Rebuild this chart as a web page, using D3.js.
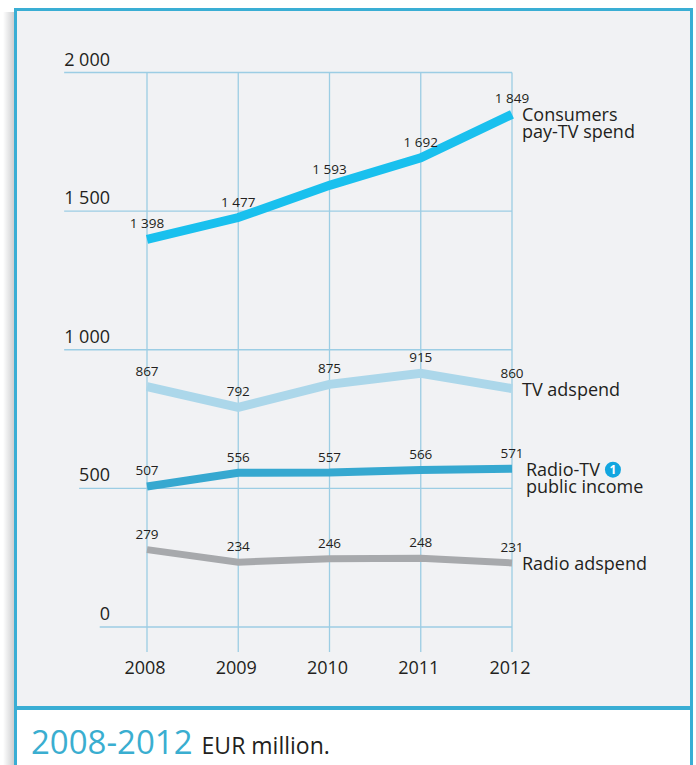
<!DOCTYPE html>
<html>
<head>
<meta charset="utf-8">
<script src="https://cdn.jsdelivr.net/npm/d3@7"></script>
<style>
  body { margin: 0; background: #fff; }
  #chart { position: relative; width: 696px; height: 765px; }
  svg text { font-family: "Open Sans", "Noto Sans", sans-serif; fill: #231f20; }
</style>
</head>
<body>
<div id="chart"></div>
<script>
// data
var years = [2008, 2009, 2010, 2011, 2012];
var payTv = [1398, 1477, 1593, 1692, 1849];
var tvAd = [867, 792, 875, 915, 860];
var publicIncome = [507, 556, 557, 566, 571];
var radioAd = [279, 234, 246, 248, 231];
var yTicks = [0, 500, 1000, 1500, 2000];
var yTickLabels = ["0", "500", "1 000", "1 500", "2 000"];
var seriesNames = [["Consumers", "pay-TV spend"], ["TV adspend"], ["Radio-TV", "public income"], ["Radio adspend"]];

var W = 696, H = 765;
var fmt = function(v){ return d3.format(",")(v).replace(",", " "); };

var svg = d3.select("#chart").append("svg")
    .attr("width", W)
    .attr("height", H);

// shadow on left of the frame
var defs = svg.append("defs");
var grad = defs.append("linearGradient").attr("id", "shadow").attr("x1", 0).attr("x2", 1);
grad.append("stop").attr("offset", 0).attr("stop-color", "#fff");
grad.append("stop").attr("offset", 1).attr("stop-color", "#c9cacc");
svg.append("rect").attr("x", 3).attr("y", 12).attr("width", 12).attr("height", H - 12).attr("fill", "url(#shadow)");

// frame
svg.append("rect").attr("x", 15.5).attr("y", 9.5).attr("width", 676).attr("height", 698)
    .attr("fill", "#f1f2f4").attr("stroke", "#3aaed4").attr("stroke-width", 3);
svg.append("rect").attr("x", 15.5).attr("y", 708.5).attr("width", 676).attr("height", 70)
    .attr("fill", "#fff").attr("stroke", "#3aaed4").attr("stroke-width", 3);

var x = d3.scalePoint().domain(years).range([147, 512]);
var y = d3.scaleLinear().domain([0, 2000]).range([627, 72.5]);

var g = svg.append("g");

// horizontal grid + y labels
var yg = g.selectAll(".ytick").data(yTicks).enter().append("g").attr("class", "ytick");
yg.append("text")
    .attr("x", 110)
    .attr("y", function(d){ return y(d) - 7; })
    .attr("text-anchor", "end")
    .style("font-size", "18px")
    .text(function(d, i){ return yTickLabels[i]; });
yg.each(function(d){
    var t = d3.select(this).select("text").node().getBBox();
    d3.select(this).append("line")
        .attr("x1", t.x).attr("x2", x(2012))
        .attr("y1", y(d)).attr("y2", y(d))
        .attr("stroke", "#9ccde4").attr("stroke-width", 1.3);
});

// vertical grid + x labels
g.selectAll(".vgrid").data(years).enter().append("line")
    .attr("x1", function(d){ return x(d); }).attr("x2", function(d){ return x(d); })
    .attr("y1", y(2000)).attr("y2", 652)
    .attr("stroke", "#9ccde4").attr("stroke-width", 1.3);
g.selectAll(".xlab").data(years).enter().append("text")
    .attr("x", function(d){ return x(d) - 2; })
    .attr("y", 674)
    .attr("text-anchor", "middle")
    .style("font-size", "18px")
    .text(function(d){ return d; });

var series = [
    {vals: payTv, color: "#19c0ee", w: 9},
    {vals: tvAd, color: "#acd7ea", w: 9},
    {vals: publicIncome, color: "#36a8d0", w: 8},
    {vals: radioAd, color: "#a7a9ac", w: 7}
];

var line = d3.line()
    .x(function(d, i){ return x(years[i]); })
    .y(function(d){ return y(d); });

var badgeAnchor;
series.forEach(function(s, si){
    g.append("path")
        .attr("d", line(s.vals))
        .attr("fill", "none")
        .attr("stroke", s.color)
        .attr("stroke-width", s.w)
        .attr("stroke-linejoin", "miter");

    g.selectAll(".val" + si).data(s.vals).enter().append("text")
        .attr("x", function(d, i){ return x(years[i]); })
        .attr("y", function(d){ return y(d) - 11; })
        .attr("text-anchor", "middle")
        .style("font-size", "13.5px")
        .text(function(d){ return fmt(d); });

    var last = s.vals[s.vals.length - 1];
    var lx = x(2012) + 10 + (si === 2 ? 4 : 0);
    seriesNames[si].forEach(function(t, k){
        var tx = g.append("text")
            .attr("x", lx)
            .attr("y", y(last) + 7 + k * 17)
            .style("font-size", "18px")
            .text(t);
        if (si === 2 && k === 0) badgeAnchor = tx.node();
    });
});

// note badge
var bx = badgeAnchor.getBBox().x + badgeAnchor.getComputedTextLength() + 13;
var by = y(publicIncome[4]) + 1;
g.append("circle").attr("cx", bx).attr("cy", by).attr("r", 8).attr("fill", "#12a6e0");
g.append("text").attr("x", bx).attr("y", by + 4.5).attr("text-anchor", "middle")
    .style("font-size", "12px").style("font-weight", "bold").style("fill", "#fff").text("1");

// caption
var cap = svg.append("text").attr("x", 31).attr("y", 754);
cap.append("tspan").style("font-size", "33px").style("fill", "#3aaed0").text("2008-2012");
cap.append("tspan").style("font-size", "23px").attr("dx", 9).text("EUR million.");
</script>
</body>
</html>
